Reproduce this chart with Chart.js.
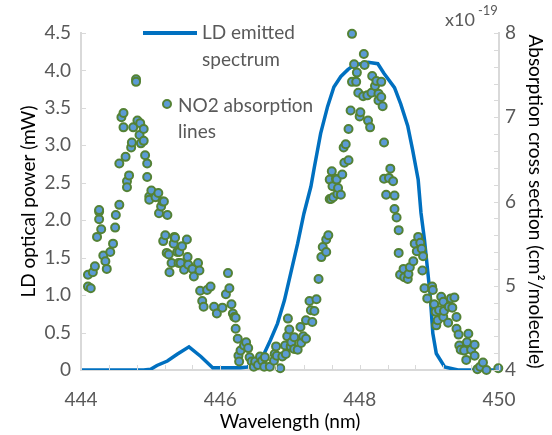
<!DOCTYPE html>
<html>
<head>
<meta charset="utf-8">
<script src="https://cdn.jsdelivr.net/npm/chart.js@4.4.1/dist/chart.umd.min.js"></script>
<style>
  html, body { margin: 0; padding: 0; background: #fff; }
</style>
</head>
<body>
<canvas id="myChart" width="552" height="435"></canvas>
<script>
// LD emitted spectrum (left axis, mW)
var ldWavelength = [444.0, 444.9, 445.0, 445.09, 445.24, 445.38, 445.55, 445.72, 445.89, 446.29, 446.39, 446.53, 446.63, 446.72, 446.82, 446.92, 447.01, 447.11, 447.2, 447.3, 447.35, 447.44, 447.54, 447.63, 447.73, 447.83, 447.92, 448.12, 448.26, 448.35, 448.5, 448.59, 448.69, 448.76, 448.84, 448.88, 448.93, 448.97, 449.01, 449.03, 449.05, 449.1, 449.22, 449.41, 450.0];
var ldPower = [0, 0, 0.01, 0.06, 0.12, 0.21, 0.31, 0.18, 0.03, 0.03, 0.04, 0.13, 0.22, 0.40, 0.62, 0.93, 1.29, 1.69, 2.09, 2.45, 2.71, 3.16, 3.52, 3.78, 3.92, 4.01, 4.07, 4.11, 4.09, 3.96, 3.77, 3.55, 3.26, 2.94, 2.54, 2.10, 1.74, 1.38, 1.02, 0.76, 0.49, 0.22, 0.04, 0, 0];

// NO2 absorption lines (right axis, x10^-19 cm2/molecule)
var no2Wavelength = [444.10, 444.10, 444.14, 444.17, 444.20, 444.23, 444.29, 444.26, 444.26, 444.26, 444.32, 444.35, 444.37, 444.42, 444.46, 444.49, 444.50, 444.55, 444.55, 444.58,
  444.61, 444.61, 444.64, 444.66, 444.66, 444.69, 444.72, 444.73, 444.75, 444.79, 444.79, 444.81, 444.84, 444.85, 444.86, 444.90, 444.90, 444.92, 444.95, 444.95,
  444.98, 444.98, 445.01, 445.07, 445.11, 445.12, 445.15, 445.17, 445.19, 445.24, 445.18, 445.21, 445.23, 445.26, 445.27, 445.30, 445.33, 445.34, 445.35, 445.38,
  445.40, 445.41, 445.43, 445.45, 445.48, 445.52, 445.53, 445.54, 445.60, 445.62, 445.68, 445.70, 445.71, 445.74, 445.76, 445.81, 445.86, 445.91, 445.95, 446.03,
  446.08, 446.11, 446.13, 446.16, 446.18, 446.20, 446.22, 446.22, 446.25, 446.26, 446.27, 446.29, 446.34, 446.37, 446.40, 446.42, 446.45, 446.48, 446.50, 446.54,
  446.57, 446.60, 446.63, 446.64, 446.71, 446.77, 446.78, 446.80, 446.81, 446.86, 446.89, 446.93, 446.94, 446.96, 446.97, 446.99, 447.01, 447.02, 447.06, 447.06,
  447.11, 447.15, 447.16, 447.19, 447.23, 447.23, 447.28, 447.30, 447.32, 447.35, 447.38, 447.41, 447.45, 447.47, 447.52, 447.52, 447.55, 447.57, 447.57, 447.59,
  447.60, 447.61, 447.62, 447.66, 447.67, 447.68, 447.69, 447.73, 447.75, 447.77, 447.80, 447.78, 447.84, 447.84, 447.87, 447.89, 447.89, 447.92, 447.95, 447.96,
  447.98, 448.00, 448.01, 448.05, 448.06, 448.07, 448.11, 448.12, 448.15, 448.17, 448.18, 448.22, 448.24, 448.27, 448.27, 448.31, 448.31, 448.33, 448.35, 448.35,
  448.38, 448.42, 448.44, 448.48, 448.50, 448.50, 448.53, 448.56, 448.56, 448.58, 448.63, 448.64, 448.69, 448.70, 448.72, 448.77, 448.79, 448.82, 448.84, 448.87,
  448.89, 448.90, 448.91, 448.93, 448.97, 449.04, 449.05, 449.07, 449.09, 449.10, 449.12, 449.14, 449.17, 449.20, 449.20, 449.21, 449.27, 449.28, 449.31, 449.33,
  449.36, 449.39, 449.39, 449.42, 449.43, 449.45, 449.50, 449.53, 449.54, 449.56, 449.60, 449.65, 449.65, 449.69, 449.73, 449.77, 449.82, 449.99];
var no2Cross = [5.13, 4.99, 4.97, 5.16, 5.23, 5.58, 5.67, 5.79, 5.88, 5.90, 5.36, 5.29, 5.20, 5.40, 5.50, 5.69, 5.84, 5.96, 6.45, 7.00,
  7.05, 6.88, 6.53, 6.24, 6.17, 6.31, 6.64, 6.70, 6.88, 7.45, 7.42, 6.96, 6.79, 6.93, 6.69, 6.86, 6.72, 6.55, 6.45, 6.29,
  6.06, 6.02, 6.13, 6.05, 6.10, 5.86, 5.94, 6.00, 6.00, 5.84, 5.53, 5.60, 5.39, 5.37, 5.16, 5.27, 5.50, 5.58, 5.57, 5.40,
  5.27, 5.40, 5.27, 5.47, 5.19, 5.55, 5.34, 5.25, 5.20, 5.11, 5.27, 5.18, 4.94, 4.82, 4.75, 4.95, 4.99, 4.75, 4.67, 4.74,
  4.90, 5.15, 4.97, 4.78, 4.67, 4.63, 4.62, 4.49, 4.37, 4.17, 4.10, 4.23, 4.29, 4.33, 4.26, 4.15, 4.10, 4.04, 4.10, 4.06,
  4.16, 4.11, 4.04, 4.15, 4.04, 4.11, 4.19, 4.28, 4.17, 4.02, 4.16, 4.29, 4.19, 4.40, 4.61, 4.48, 4.28, 4.33, 4.39, 4.25,
  4.24, 4.51, 4.32, 4.40, 4.59, 4.37, 4.82, 4.71, 4.57, 4.70, 4.84, 5.08, 5.34, 5.46, 5.40, 5.55, 5.60, 6.26, 6.03, 6.03,
  6.36, 6.18, 6.05, 6.27, 6.26, 6.09, 6.16, 6.08, 6.32, 6.64, 6.68, 6.46, 6.49, 6.86, 7.08, 7.42, 7.99, 7.63, 7.42, 7.53,
  7.29, 7.01, 7.06, 7.25, 7.75, 7.62, 7.26, 6.96, 6.88, 7.29, 7.49, 7.37, 7.43, 7.28, 7.20, 7.42, 7.24, 7.13, 6.70, 6.27,
  6.08, 6.28, 6.39, 6.24, 6.07, 5.91, 5.81, 5.66, 5.39, 5.13, 5.20, 5.10, 5.08, 5.14, 5.22, 5.29, 5.50, 5.41, 5.58, 5.51,
  5.44, 5.18, 5.35, 4.97, 4.85, 4.99, 4.95, 4.78, 4.69, 4.53, 4.59, 4.71, 4.87, 4.81, 4.63, 4.70, 4.56, 4.75, 4.85, 4.74,
  4.86, 4.63, 4.49, 4.42, 4.29, 4.24, 4.23, 4.12, 4.33, 4.43, 4.24, 4.30, 4.17, 4.01, 4.04, 4.09, 4.00, 4.02];

// axis ticks
var xMin = 444, xMax = 450, xStep = 2, xMinorStep = 0.4;
var yLeftMin = 0, yLeftMax = 4.5, yLeftStep = 0.5;
var yRightMin = 4, yRightMax = 8, yRightStep = 1, yRightMinorStep = 0.2;

var ldPoints = ldWavelength.map(function (w, i) { return {x: w, y: ldPower[i]}; });
var no2Points = no2Wavelength.map(function (w, i) { return {x: w, y: no2Cross[i]}; });

var FONT = "Lato, 'Open Sans', sans-serif";
Chart.defaults.font.family = FONT;
Chart.defaults.font.size = 19;
Chart.defaults.color = '#595959';

// tick marks inside the plot, legend and x10^-19 label
var extras = {
  id: 'extras',
  afterDraw: function (chart) {
    var ctx = chart.ctx;
    var a = chart.chartArea;
    var sx = chart.scales.x, sy = chart.scales.y, sy2 = chart.scales.y2;
    ctx.save();
    ctx.strokeStyle = '#d9d9d9';
    ctx.lineWidth = 1;
    ctx.beginPath();
    for (var i = 0; i <= Math.round((xMax - xMin) / xMinorStep); i++) {
      var px = Math.round(sx.getPixelForValue(xMin + i * xMinorStep)) + 0.5;
      ctx.moveTo(px, a.bottom); ctx.lineTo(px, a.bottom - 5);
    }
    for (var j = 0; j <= Math.round((yLeftMax - yLeftMin) / yLeftStep); j++) {
      var py = Math.round(sy.getPixelForValue(yLeftMin + j * yLeftStep)) + 0.5;
      ctx.moveTo(a.left, py); ctx.lineTo(a.left + 5, py);
    }
    for (var k = 0; k <= Math.round((yRightMax - yRightMin) / yRightMinorStep); k++) {
      var py2 = Math.round(sy2.getPixelForValue(yRightMin + k * yRightMinorStep)) + 0.5;
      ctx.moveTo(a.right, py2); ctx.lineTo(a.right - 5, py2);
    }
    ctx.stroke();

    // legend
    ctx.strokeStyle = '#0070C0';
    ctx.lineWidth = 4;
    ctx.beginPath();
    ctx.moveTo(143, 33); ctx.lineTo(197, 33);
    ctx.stroke();
    ctx.font = '19px ' + FONT;
    ctx.fillStyle = '#595959';
    ctx.textBaseline = 'middle';
    ctx.textAlign = 'left';
    ctx.fillText('LD emitted', 202, 33);
    ctx.fillText('spectrum', 202, 60);
    ctx.beginPath();
    ctx.arc(167, 104, 4, 0, Math.PI * 2);
    ctx.fillStyle = '#5B9BD5';
    ctx.fill();
    ctx.lineWidth = 2;
    ctx.strokeStyle = '#548235';
    ctx.stroke();
    ctx.fillStyle = '#595959';
    ctx.fillText('NO2 absorption', 178, 106);
    ctx.fillText('lines', 178, 132);

    // exponent of right axis
    ctx.textBaseline = 'alphabetic';
    ctx.font = '18px ' + FONT;
    ctx.fillText('x10', 445, 26);
    ctx.font = '13px ' + FONT;
    ctx.fillText('-19', 478, 15);
    ctx.restore();
  }
};

new Chart('myChart', {
  type: 'scatter',
  data: {
    datasets: [
      {
        type: 'line',
        label: 'LD emitted spectrum',
        data: ldPoints,
        yAxisID: 'y',
        borderColor: '#0070C0',
        borderWidth: 3.5,
        pointRadius: 0,
        fill: false,
        tension: 0,
        order: 2
      },
      {
        type: 'scatter',
        label: 'NO2 absorption lines',
        data: no2Points,
        yAxisID: 'y2',
        backgroundColor: '#5B9BD5',
        borderColor: '#548235',
        borderWidth: 2,
        pointRadius: 4,
        clip: false,
        order: 1
      }
    ]
  },
  options: {
    responsive: false,
    animation: false,
    layout: {padding: {top: 33, left: 0, right: 0, bottom: 0}},
    plugins: {legend: {display: false}, tooltip: {enabled: false}},
    scales: {
      x: {
        type: 'linear',
        min: xMin,
        max: xMax,
        ticks: {stepSize: xStep, padding: 18},
        grid: {display: false, drawTicks: false},
        border: {color: '#d9d9d9', width: 2},
        title: {display: true, text: 'Wavelength (nm)', color: '#000', padding: {top: 0, bottom: 2}},
        afterFit: function (s) { s.height = 65; }
      },
      y: {
        position: 'left',
        min: yLeftMin,
        max: yLeftMax,
        ticks: {stepSize: yLeftStep, padding: 10, callback: function (v) { return v === 0 ? '0' : v.toFixed(1); }},
        grid: {display: false, drawTicks: false},
        border: {color: '#d9d9d9', width: 2},
        title: {display: true, text: 'LD optical power (mW)', color: '#000', padding: {top: 17, bottom: 0}},
        afterFit: function (s) { s.width = 81; }
      },
      y2: {
        position: 'right',
        min: yRightMin,
        max: yRightMax,
        ticks: {stepSize: yRightStep, padding: 6},
        grid: {display: false, drawTicks: false},
        border: {color: '#d9d9d9', width: 2},
        title: {display: true, text: 'Absorption cross section (cm\u00b2/molecule)', color: '#000', padding: {top: 5, bottom: 0}},
        afterFit: function (s) { s.width = 53; }
      }
    }
  },
  plugins: [extras]
});
</script>
</body>
</html>
